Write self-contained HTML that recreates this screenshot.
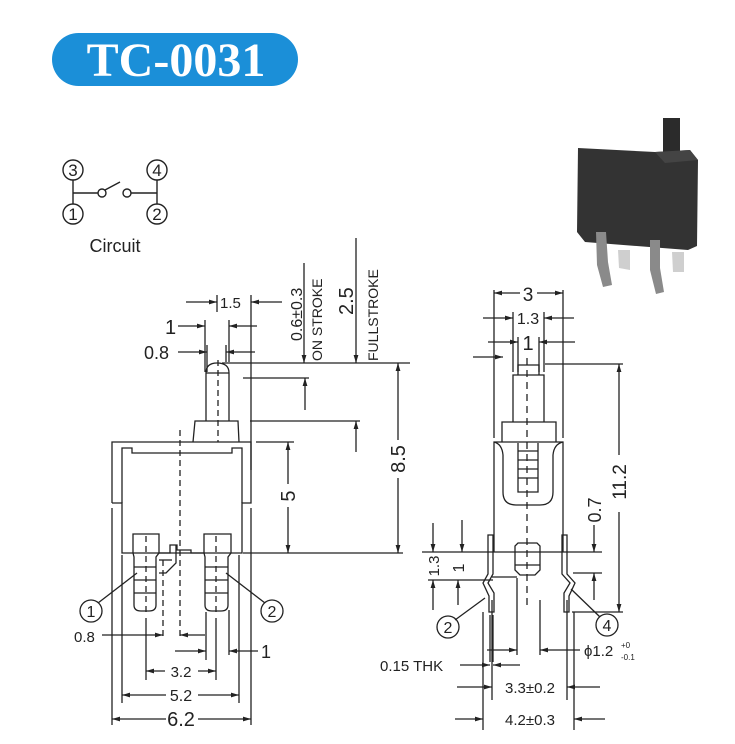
<!DOCTYPE html>
<html><head><meta charset="utf-8"><style>
html,body{margin:0;padding:0;background:#fff}
svg{display:block}
text{font-family:"Liberation Sans",sans-serif;fill:#222}
</style></head><body>
<svg width="735" height="744" viewBox="0 0 735 744" xmlns="http://www.w3.org/2000/svg">
<defs>
<marker id="a" viewBox="0 0 10 6" refX="10" refY="3" markerWidth="8" markerHeight="5" orient="auto-start-reverse" markerUnits="userSpaceOnUse"><path d="M0,0 L10,3 L0,6 z" fill="#222"/></marker>
</defs>
<!-- Title -->
<rect x="52" y="33" width="246" height="53" rx="26.5" fill="#1b8fd8"/>
<text x="176" y="76" text-anchor="middle" style="font-family:'Liberation Serif',serif;font-weight:bold;font-size:48px;fill:#fff">TC-0031</text>

<!-- Circuit -->
<g stroke="#222" stroke-width="1.4" fill="none">
<circle cx="73" cy="170" r="10"/><circle cx="157" cy="170" r="10"/>
<circle cx="73" cy="214" r="10"/><circle cx="157" cy="214" r="10"/>
<line x1="73" y1="180" x2="73" y2="204"/><line x1="157" y1="180" x2="157" y2="204"/>
<line x1="73" y1="193" x2="98" y2="193"/><circle cx="102" cy="193" r="4"/>
<circle cx="127" cy="193" r="4"/><line x1="131" y1="193" x2="157" y2="193"/>
<line x1="105" y1="190" x2="120" y2="182"/>
</g>
<g font-size="17" text-anchor="middle">
<text x="73" y="176">3</text><text x="157" y="176">4</text><text x="73" y="220">1</text><text x="157" y="220">2</text>
</g>
<text x="115" y="252" font-size="18" text-anchor="middle">Circuit</text>

<!-- Photo -->
<g>
<rect x="663" y="118" width="17" height="40" fill="#2b2b2b"/>
<polygon points="578,148 655,152 690,150 698,160 697,246 688,250 585,242 577,232" fill="#333"/>
<polygon points="655,152 690,150 698,160 665,163" fill="#444"/>
<polygon points="596,232 606,232 608,262 612,285 603,287 597,265" fill="#8a8a8a"/>
<polygon points="618,250 630,250 630,270 619,268" fill="#cfcfcf"/>
<polygon points="650,240 660,240 660,268 664,292 656,294 650,270" fill="#8a8a8a"/>
<polygon points="672,252 684,252 684,272 673,272" fill="#cfcfcf"/>
</g>

<g stroke="#222" stroke-width="1.3" fill="none">
<!-- LEFT VIEW body -->
<path d="M112,503 L112,442 L251,442 L251,503 L242,503 L242,553 L122,553 L122,503 L112,503"/>
<path d="M122,503 L122,448 L132,448 L132,453 L232,453 L232,448 L242,448 L242,503"/>
<path d="M193,442 L195,421 L238,421 L239,442"/>
<path d="M206,421 L206,373 Q206,363 217,363 Q229,363 229,373 L229,421"/>
<line x1="206" y1="373" x2="229" y2="373"/>
<path d="M133,553 L133,534 L159,534 L159,553 L156,557 L156,605 Q156,611 149,611 L141,611 Q134,611 134,605 L134,557 L133,553"/>
<path d="M204,553 L204,534 L231,534 L231,553 L228,557 L228,605 Q228,611 221,611 L212,611 Q205,611 205,605 L205,557 L204,553"/>
<line x1="134" y1="567" x2="156" y2="567"/><line x1="134" y1="580" x2="156" y2="580"/><line x1="134" y1="593" x2="156" y2="593"/>
<line x1="205" y1="567" x2="228" y2="567"/><line x1="205" y1="580" x2="228" y2="580"/><line x1="205" y1="593" x2="228" y2="593"/>
<path d="M159,553 L170,553 L170,545 L177,545 L177,550 L191,550 L191,553 L204,553"/>
<path d="M159,573 L166,573 L176,563 L176,545"/>
<line x1="159" y1="560" x2="172" y2="560"/>
<g stroke-dasharray="6,4">
<line x1="218" y1="360" x2="218" y2="442"/>
<line x1="180" y1="430" x2="180" y2="640"/>
<line x1="146" y1="536" x2="146" y2="612"/>
<line x1="216" y1="536" x2="216" y2="612"/>
<line x1="163" y1="560" x2="163" y2="640"/>
</g>
<line x1="217" y1="295" x2="217" y2="312"/><line x1="251" y1="295" x2="251" y2="470"/>
<line x1="186" y1="302" x2="217" y2="302" marker-end="url(#a)"/><line x1="282" y1="302" x2="251" y2="302" marker-end="url(#a)"/>
<line x1="205" y1="320" x2="205" y2="372"/><line x1="229" y1="320" x2="229" y2="362"/>
<line x1="178" y1="326" x2="205" y2="326" marker-end="url(#a)"/><line x1="257" y1="326" x2="229" y2="326" marker-end="url(#a)"/>
<line x1="207" y1="345" x2="207" y2="372"/><line x1="226" y1="345" x2="226" y2="362"/>
<line x1="178" y1="352" x2="207" y2="352" marker-end="url(#a)"/><line x1="255" y1="352" x2="226" y2="352" marker-end="url(#a)"/>
<line x1="222" y1="363" x2="410" y2="363"/>
<line x1="304" y1="263" x2="304" y2="363" marker-end="url(#a)"/>
<line x1="356" y1="238" x2="356" y2="363" marker-end="url(#a)"/>
<line x1="243" y1="378" x2="309" y2="378"/><line x1="305" y1="410" x2="305" y2="378" marker-end="url(#a)"/>
<line x1="250" y1="421" x2="360" y2="421"/><line x1="356" y1="452" x2="356" y2="421" marker-end="url(#a)"/>
<line x1="243" y1="553" x2="403" y2="553"/>
<line x1="398" y1="440" x2="398" y2="363" marker-end="url(#a)"/><line x1="398" y1="478" x2="398" y2="553" marker-end="url(#a)"/>
<line x1="256" y1="442" x2="294" y2="442"/>
<line x1="288" y1="484" x2="288" y2="442" marker-end="url(#a)"/><line x1="288" y1="507" x2="288" y2="553" marker-end="url(#a)"/>
<line x1="112" y1="508" x2="112" y2="725"/><line x1="251" y1="508" x2="251" y2="725"/>
<line x1="166" y1="719" x2="112" y2="719" marker-end="url(#a)"/><line x1="198" y1="719" x2="251" y2="719" marker-end="url(#a)"/>
<line x1="122" y1="555" x2="122" y2="703"/><line x1="239" y1="555" x2="239" y2="703"/>
<line x1="166" y1="695" x2="122" y2="695" marker-end="url(#a)"/><line x1="198" y1="695" x2="239" y2="695" marker-end="url(#a)"/>
<line x1="146" y1="618" x2="146" y2="680"/><line x1="216" y1="618" x2="216" y2="680"/>
<line x1="165" y1="671" x2="146" y2="671" marker-end="url(#a)"/><line x1="198" y1="671" x2="216" y2="671" marker-end="url(#a)"/>
<line x1="102" y1="635" x2="163" y2="635" marker-end="url(#a)"/>
<line x1="205" y1="635" x2="180" y2="635" marker-end="url(#a)"/>
<line x1="206" y1="612" x2="206" y2="660"/>
<line x1="175" y1="651" x2="206" y2="651" marker-end="url(#a)"/>
<line x1="229" y1="610" x2="229" y2="655"/>
<line x1="258" y1="651" x2="229" y2="651" marker-end="url(#a)"/>
<circle cx="91" cy="611" r="11"/><circle cx="272" cy="611" r="11"/>
<line x1="137" y1="573" x2="98" y2="603"/><line x1="226" y1="573" x2="265" y2="603"/>

<!-- RIGHT VIEW -->
<path d="M494,552 L494,442 L563,442 L563,552"/>
<path d="M502,442 L502,422 L556,422 L556,442"/>
<path d="M513,422 L513,375 L544,375 L544,422"/>
<path d="M518,375 L518,365 L539,365 L539,375"/>
<path d="M494,442 Q502,444 503,455 L503,492 Q503,505 516,505 L540,505 Q553,505 553,492 L553,455 Q554,444 563,442"/>
<path d="M518,443 L518,492 L538,492 L538,443"/>
<line x1="518" y1="451" x2="538" y2="451"/><line x1="518" y1="460" x2="538" y2="460"/><line x1="518" y1="469" x2="538" y2="469"/><line x1="518" y1="478" x2="538" y2="478"/>
<path d="M515,552 L515,546 L518,543 L537,543 L540,546 L540,570 L535,575 L520,575 L515,570 Z"/>
<line x1="515" y1="565" x2="540" y2="565"/>
<path d="M488,535 L493,535 L493,574 L488,583 L494,593 L494,612 L489,612 L489,596 L483,583 L488,574 Z"/>
<path d="M562,535 L567,535 L567,574 L575,583 L569,596 L569,612 L564,612 L564,593 L570,583 L562,574 Z"/>
<line x1="527" y1="358" x2="527" y2="605" stroke-dasharray="7,5"/>
<line x1="494" y1="290" x2="494" y2="438"/><line x1="563" y1="290" x2="563" y2="438"/>
<line x1="520" y1="293" x2="494" y2="293" marker-end="url(#a)"/><line x1="537" y1="293" x2="563" y2="293" marker-end="url(#a)"/>
<line x1="513" y1="312" x2="513" y2="372"/><line x1="544" y1="312" x2="544" y2="372"/>
<line x1="483" y1="318" x2="513" y2="318" marker-end="url(#a)"/><line x1="574" y1="318" x2="544" y2="318" marker-end="url(#a)"/>
<line x1="518" y1="337" x2="518" y2="372"/><line x1="539" y1="337" x2="539" y2="372"/>
<line x1="488" y1="342" x2="518" y2="342" marker-end="url(#a)"/><line x1="575" y1="342" x2="539" y2="342" marker-end="url(#a)"/>
<line x1="473" y1="357" x2="503" y2="357" marker-end="url(#a)"/>
<line x1="545" y1="364" x2="623" y2="364"/><line x1="572" y1="612" x2="623" y2="612"/>
<line x1="619" y1="455" x2="619" y2="364" marker-end="url(#a)"/><line x1="619" y1="512" x2="619" y2="612" marker-end="url(#a)"/>
<line x1="422" y1="552" x2="602" y2="552"/>
<line x1="594" y1="525" x2="594" y2="552" marker-end="url(#a)"/>
<line x1="573" y1="573" x2="602" y2="573"/><line x1="594" y1="600" x2="594" y2="573" marker-end="url(#a)"/>
<line x1="433" y1="523" x2="433" y2="552" marker-end="url(#a)"/><line x1="462" y1="520" x2="462" y2="552" marker-end="url(#a)"/>
<line x1="428" y1="580" x2="493" y2="580"/><line x1="492" y1="577" x2="517" y2="577"/>
<line x1="433" y1="610" x2="433" y2="580" marker-end="url(#a)"/><line x1="458" y1="605" x2="458" y2="580" marker-end="url(#a)"/>
<circle cx="448" cy="627" r="11"/><circle cx="607" cy="625" r="11"/>
<line x1="485" y1="598" x2="455" y2="620"/><line x1="571" y1="589" x2="600" y2="617"/>
<line x1="517" y1="578" x2="517" y2="655"/><line x1="540" y1="600" x2="540" y2="655"/>
<line x1="487" y1="650" x2="517" y2="650" marker-end="url(#a)"/><line x1="580" y1="650" x2="540" y2="650" marker-end="url(#a)"/>
<line x1="490" y1="615" x2="490" y2="662"/><line x1="493" y1="615" x2="493" y2="662"/>
<line x1="460" y1="665" x2="490" y2="665" marker-end="url(#a)"/><line x1="520" y1="665" x2="493" y2="665" marker-end="url(#a)"/>
<line x1="492" y1="600" x2="492" y2="700"/><line x1="567" y1="600" x2="567" y2="700"/>
<line x1="457" y1="687" x2="492" y2="687" marker-end="url(#a)"/><line x1="600" y1="687" x2="567" y2="687" marker-end="url(#a)"/>
<line x1="483" y1="612" x2="483" y2="730"/><line x1="574" y1="612" x2="574" y2="730"/>
<line x1="455" y1="719" x2="483" y2="719" marker-end="url(#a)"/><line x1="605" y1="719" x2="574" y2="719" marker-end="url(#a)"/>
</g>

<g font-size="16">
<text x="220" y="308" font-size="15">1.5</text>
<text x="165" y="334" font-size="20">1</text>
<text x="144" y="359" font-size="18">0.8</text>
<text x="74" y="642" font-size="15">0.8</text>
<text x="261" y="658" font-size="18">1</text>
<text x="181" y="677" text-anchor="middle" font-size="15">3.2</text>
<text x="181" y="701" text-anchor="middle" font-size="16">5.2</text>
<text x="181" y="726" text-anchor="middle" font-size="20">6.2</text>
</g>
<text x="91" y="617" font-size="16" text-anchor="middle">1</text>
<text x="272" y="617" font-size="16" text-anchor="middle">2</text>
<g font-size="16">
<text transform="translate(302,341) rotate(-90)" font-size="16">0.6±0.3</text>
<text transform="translate(322,361) rotate(-90)" font-size="14">ON STROKE</text>
<text transform="translate(353,315) rotate(-90)" font-size="20">2.5</text>
<text transform="translate(378,361) rotate(-90)" font-size="14">FULLSTROKE</text>
<text transform="translate(405,459) rotate(-90)" font-size="20" text-anchor="middle">8.5</text>
<text transform="translate(295,496) rotate(-90)" font-size="20" text-anchor="middle">5</text>
</g>
<text x="528" y="301" font-size="19" text-anchor="middle">3</text>
<text x="528" y="324" font-size="16" text-anchor="middle">1.3</text>
<text x="528" y="350" font-size="20" text-anchor="middle">1</text>
<text transform="translate(626,482) rotate(-90)" font-size="19" text-anchor="middle">11.2</text>
<text transform="translate(601,510) rotate(-90)" font-size="18" text-anchor="middle">0.7</text>
<text transform="translate(439,566) rotate(-90)" font-size="15" text-anchor="middle">1.3</text>
<text transform="translate(464,568) rotate(-90)" font-size="16" text-anchor="middle">1</text>
<text x="448" y="633" font-size="16" text-anchor="middle">2</text>
<text x="607" y="631" font-size="16" text-anchor="middle">4</text>
<text x="584" y="656" font-size="15">ϕ1.2</text>
<text x="621" y="648" font-size="8">+0</text>
<text x="621" y="660" font-size="8">-0.1</text>
<text x="380" y="671" font-size="15">0.15 THK</text>
<text x="530" y="693" font-size="15" text-anchor="middle">3.3±0.2</text>
<text x="530" y="725" font-size="15" text-anchor="middle">4.2±0.3</text>
</svg>
</body></html>
